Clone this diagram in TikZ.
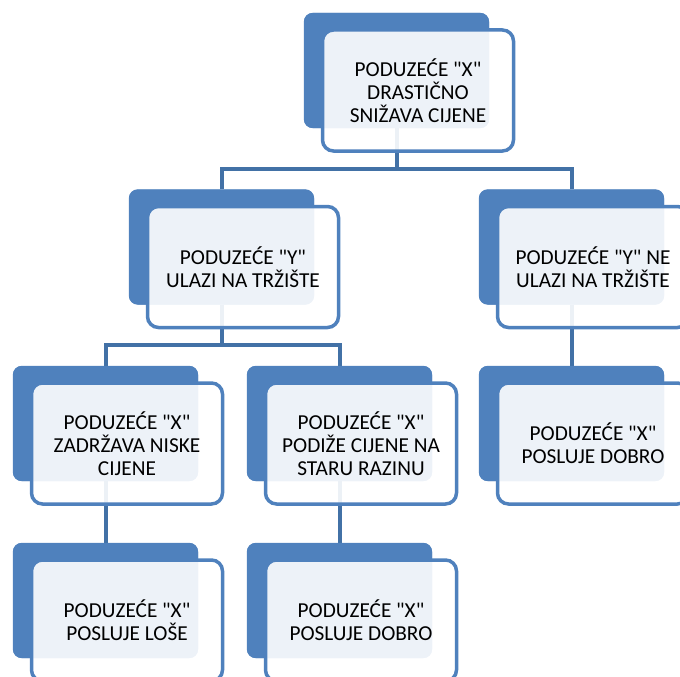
\documentclass[tikz,border=0pt]{standalone}
\usepackage{fontspec}
\setmainfont{Carlito}[Ligatures=TeXOff]
\usetikzlibrary{calc}
\definecolor{boxblue}{RGB}{79,129,189}
\definecolor{linkblue}{RGB}{66,113,166}
\begin{document}
\begin{tikzpicture}[x=1pt,y=-1pt,
  back/.style={rectangle, rounded corners=9pt, fill=boxblue, minimum width=185pt, minimum height=115pt, inner sep=0pt},
  front/.style={rectangle, rounded corners=11pt, draw=boxblue, line width=3.5pt, fill=white, fill opacity=0.9, text opacity=1, minimum width=191pt, minimum height=121pt, align=center, inner sep=0pt, font=\fontsize{21.3}{23}\selectfont},
  link/.style={draw=linkblue, line width=4pt},
  backfill/.style={fill=boxblue, rounded corners=9pt}]
\useasboundingbox (0,0) rectangle (680,677);
\clip (0,0) rectangle (680,677);
% back boxes
\node[back] (b1) at (396.5,70.5) {};
\node[back] (b2) at (221.5,247) {};
\node[back] (b3) at (571.5,247) {};
\node[back] (b4) at (105.5,423.5) {};
\node[back] (b5) at (339.5,423.5) {};
\node[back] (b6) at (571.5,423.5) {};
\node[back] (b7) at (105.5,600.5) {};
\node[back] (b8) at (339.5,600.5) {};
% connectors
\coordinate (bus1) at (0,169);
\coordinate (bus2) at (0,345);
\draw[link] (b1.south) -- (b1.south |- bus1) -| (b2.north);
\draw[link] (b1.south |- bus1) -| (b3.north);
\draw[link] (b2.south) -- (b2.south |- bus2) -| (b4.north);
\draw[link] (b2.south |- bus2) -| (b5.north);
\draw[link] (b3.south) -- (b6.north);
\draw[link] (b4.south) -- (b7.north);
\draw[link] (b5.south) -- (b8.north);
% back boxes again over connector ends
\foreach \b in {b1,b2,b3,b4,b5,b6,b7,b8}
  \fill[backfill] (\b.south west) rectangle (\b.north east);
% front boxes
\node[front] (f1) at ($(b1)+(21.5,20)$) {PODUZEĆE "X"\\DRASTIČNO\\SNIŽAVA CIJENE};
\node[front] (f2) at ($(b2)+(21.5,20)$) {PODUZEĆE "Y"\\ULAZI NA TRŽIŠTE};
\node[front] (f3) at ($(b3)+(21.5,20)$) {PODUZEĆE "Y" NE\\ULAZI NA TRŽIŠTE};
\node[front] (f4) at ($(b4)+(21.5,20)$) {PODUZEĆE "X"\\ZADRŽAVA NISKE\\CIJENE};
\node[front] (f5) at ($(b5)+(21.5,20)$) {PODUZEĆE "X"\\PODIŽE CIJENE NA\\STARU RAZINU};
\node[front] (f6) at ($(b6)+(21.5,20)$) {PODUZEĆE "X"\\POSLUJE DOBRO};
\node[front] (f7) at ($(b7)+(21.5,20)$) {PODUZEĆE "X"\\POSLUJE LOŠE};
\node[front] (f8) at ($(b8)+(21.5,20)$) {PODUZEĆE "X"\\POSLUJE DOBRO};
\end{tikzpicture}
\end{document}
